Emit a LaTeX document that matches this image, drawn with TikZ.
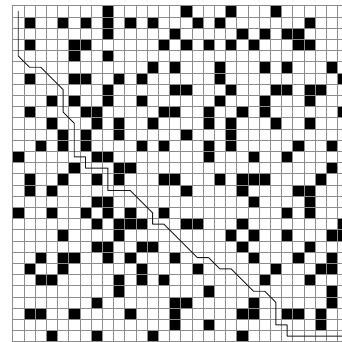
\documentclass[tikz,border=0pt]{standalone}
\begin{document}
\begin{tikzpicture}
% occupancy grid with warping path
\def\cellsz{0.4cm}
\providecommand{\gridLineColor}{black!45}
\providecommand{\gridLineWidth}{0.5pt}
\providecommand{\pathColor}{black!90}
\providecommand{\pathLineWidth}{0.9pt}
\begin{scope}[x=\cellsz, y=\cellsz, line cap=round, line join=round]
  % Frame of the picture (last column is cut)
  \useasboundingbox (-1.134,-0.03) rectangle (29.40,30.509);
  \fill[white] (-1.134,-0.03) rectangle (29.40,30.509);
  % Occupied cells
  \begin{scope}[fill=black]
    \fill (8,29) rectangle ++(1,1);
    \fill (15,29) rectangle ++(1,1);
    \fill (19,29) rectangle ++(1,1);
    \fill (23,29) rectangle ++(1,1);
    \fill (1,28) rectangle ++(1,1);
    \fill (4,28) rectangle ++(1,1);
    \fill (6,28) rectangle ++(1,1);
    \fill (8,28) rectangle ++(1,1);
    \fill (10,28) rectangle ++(1,1);
    \fill (12,28) rectangle ++(1,1);
    \fill (16,28) rectangle ++(1,1);
    \fill (18,28) rectangle ++(1,1);
    \fill (26,28) rectangle ++(1,1);
    \fill (8,27) rectangle ++(1,1);
    \fill (14,27) rectangle ++(1,1);
    \fill (20,27) rectangle ++(1,1);
    \fill (22,27) rectangle ++(1,1);
    \fill (24,27) rectangle ++(1,1);
    \fill (25,27) rectangle ++(1,1);
    \fill (1,26) rectangle ++(1,1);
    \fill (5,26) rectangle ++(1,1);
    \fill (6,26) rectangle ++(1,1);
    \fill (13,26) rectangle ++(1,1);
    \fill (15,26) rectangle ++(1,1);
    \fill (17,26) rectangle ++(1,1);
    \fill (19,26) rectangle ++(1,1);
    \fill (21,26) rectangle ++(1,1);
    \fill (25,26) rectangle ++(1,1);
    \fill (26,26) rectangle ++(1,1);
    \fill (5,25) rectangle ++(1,1);
    \fill (8,25) rectangle ++(1,1);
    \fill (12,24) rectangle ++(1,1);
    \fill (14,24) rectangle ++(1,1);
    \fill (18,24) rectangle ++(1,1);
    \fill (22,24) rectangle ++(1,1);
    \fill (24,24) rectangle ++(1,1);
    \fill (28,24) rectangle ++(1,1);
    \fill (1,23) rectangle ++(1,1);
    \fill (5,23) rectangle ++(1,1);
    \fill (6,23) rectangle ++(1,1);
    \fill (9,23) rectangle ++(1,1);
    \fill (11,23) rectangle ++(1,1);
    \fill (18,23) rectangle ++(1,1);
    \fill (29,23) rectangle ++(1,1);
    \fill (8,22) rectangle ++(1,1);
    \fill (14,22) rectangle ++(1,1);
    \fill (15,22) rectangle ++(1,1);
    \fill (19,22) rectangle ++(1,1);
    \fill (23,22) rectangle ++(1,1);
    \fill (24,22) rectangle ++(1,1);
    \fill (26,22) rectangle ++(1,1);
    \fill (27,22) rectangle ++(1,1);
    \fill (3,21) rectangle ++(1,1);
    \fill (5,21) rectangle ++(1,1);
    \fill (8,21) rectangle ++(1,1);
    \fill (11,21) rectangle ++(1,1);
    \fill (18,21) rectangle ++(1,1);
    \fill (22,21) rectangle ++(1,1);
    \fill (26,21) rectangle ++(1,1);
    \fill (1,20) rectangle ++(1,1);
    \fill (6,20) rectangle ++(1,1);
    \fill (7,20) rectangle ++(1,1);
    \fill (13,20) rectangle ++(1,1);
    \fill (14,20) rectangle ++(1,1);
    \fill (17,20) rectangle ++(1,1);
    \fill (20,20) rectangle ++(1,1);
    \fill (22,20) rectangle ++(1,1);
    \fill (29,20) rectangle ++(1,1);
    \fill (3,19) rectangle ++(1,1);
    \fill (7,19) rectangle ++(1,1);
    \fill (9,19) rectangle ++(1,1);
    \fill (12,19) rectangle ++(1,1);
    \fill (17,19) rectangle ++(1,1);
    \fill (19,19) rectangle ++(1,1);
    \fill (23,19) rectangle ++(1,1);
    \fill (26,19) rectangle ++(1,1);
    \fill (4,18) rectangle ++(1,1);
    \fill (6,18) rectangle ++(1,1);
    \fill (9,18) rectangle ++(1,1);
    \fill (15,18) rectangle ++(1,1);
    \fill (19,18) rectangle ++(1,1);
    \fill (2,17) rectangle ++(1,1);
    \fill (4,17) rectangle ++(1,1);
    \fill (6,17) rectangle ++(1,1);
    \fill (11,17) rectangle ++(1,1);
    \fill (13,17) rectangle ++(1,1);
    \fill (17,17) rectangle ++(1,1);
    \fill (19,17) rectangle ++(1,1);
    \fill (25,17) rectangle ++(1,1);
    \fill (28,17) rectangle ++(1,1);
    \fill (0,16) rectangle ++(1,1);
    \fill (7,16) rectangle ++(1,1);
    \fill (8,16) rectangle ++(1,1);
    \fill (17,16) rectangle ++(1,1);
    \fill (21,16) rectangle ++(1,1);
    \fill (24,16) rectangle ++(1,1);
    \fill (5,15) rectangle ++(1,1);
    \fill (9,15) rectangle ++(1,1);
    \fill (10,15) rectangle ++(1,1);
    \fill (28,15) rectangle ++(1,1);
    \fill (1,14) rectangle ++(1,1);
    \fill (4,14) rectangle ++(1,1);
    \fill (7,14) rectangle ++(1,1);
    \fill (9,14) rectangle ++(1,1);
    \fill (13,14) rectangle ++(1,1);
    \fill (14,14) rectangle ++(1,1);
    \fill (18,14) rectangle ++(1,1);
    \fill (20,14) rectangle ++(1,1);
    \fill (21,14) rectangle ++(1,1);
    \fill (22,14) rectangle ++(1,1);
    \fill (27,14) rectangle ++(1,1);
    \fill (1,13) rectangle ++(1,1);
    \fill (3,13) rectangle ++(1,1);
    \fill (15,13) rectangle ++(1,1);
    \fill (20,13) rectangle ++(1,1);
    \fill (25,13) rectangle ++(1,1);
    \fill (26,13) rectangle ++(1,1);
    \fill (7,12) rectangle ++(1,1);
    \fill (8,12) rectangle ++(1,1);
    \fill (21,12) rectangle ++(1,1);
    \fill (26,12) rectangle ++(1,1);
    \fill (0,11) rectangle ++(1,1);
    \fill (3,11) rectangle ++(1,1);
    \fill (6,11) rectangle ++(1,1);
    \fill (8,11) rectangle ++(1,1);
    \fill (10,11) rectangle ++(1,1);
    \fill (13,11) rectangle ++(1,1);
    \fill (24,11) rectangle ++(1,1);
    \fill (26,11) rectangle ++(1,1);
    \fill (7,10) rectangle ++(1,1);
    \fill (9,10) rectangle ++(1,1);
    \fill (10,10) rectangle ++(1,1);
    \fill (11,10) rectangle ++(1,1);
    \fill (15,10) rectangle ++(1,1);
    \fill (16,10) rectangle ++(1,1);
    \fill (20,10) rectangle ++(1,1);
    \fill (29,10) rectangle ++(1,1);
    \fill (4,9) rectangle ++(1,1);
    \fill (9,9) rectangle ++(1,1);
    \fill (19,9) rectangle ++(1,1);
    \fill (21,9) rectangle ++(1,1);
    \fill (24,9) rectangle ++(1,1);
    \fill (28,9) rectangle ++(1,1);
    \fill (29,9) rectangle ++(1,1);
    \fill (7,8) rectangle ++(1,1);
    \fill (8,8) rectangle ++(1,1);
    \fill (11,8) rectangle ++(1,1);
    \fill (12,8) rectangle ++(1,1);
    \fill (20,8) rectangle ++(1,1);
    \fill (26,8) rectangle ++(1,1);
    \fill (2,7) rectangle ++(1,1);
    \fill (4,7) rectangle ++(1,1);
    \fill (5,7) rectangle ++(1,1);
    \fill (8,7) rectangle ++(1,1);
    \fill (10,7) rectangle ++(1,1);
    \fill (14,7) rectangle ++(1,1);
    \fill (21,7) rectangle ++(1,1);
    \fill (25,7) rectangle ++(1,1);
    \fill (28,7) rectangle ++(1,1);
    \fill (1,6) rectangle ++(1,1);
    \fill (4,6) rectangle ++(1,1);
    \fill (11,6) rectangle ++(1,1);
    \fill (16,6) rectangle ++(1,1);
    \fill (23,6) rectangle ++(1,1);
    \fill (27,6) rectangle ++(1,1);
    \fill (28,6) rectangle ++(1,1);
    \fill (2,5) rectangle ++(1,1);
    \fill (3,5) rectangle ++(1,1);
    \fill (9,5) rectangle ++(1,1);
    \fill (11,5) rectangle ++(1,1);
    \fill (13,5) rectangle ++(1,1);
    \fill (22,5) rectangle ++(1,1);
    \fill (26,5) rectangle ++(1,1);
    \fill (9,4) rectangle ++(1,1);
    \fill (17,4) rectangle ++(1,1);
    \fill (28,4) rectangle ++(1,1);
    \fill (7,3) rectangle ++(1,1);
    \fill (14,3) rectangle ++(1,1);
    \fill (15,3) rectangle ++(1,1);
    \fill (21,3) rectangle ++(1,1);
    \fill (28,3) rectangle ++(1,1);
    \fill (1,2) rectangle ++(1,1);
    \fill (2,2) rectangle ++(1,1);
    \fill (5,2) rectangle ++(1,1);
    \fill (10,2) rectangle ++(1,1);
    \fill (14,2) rectangle ++(1,1);
    \fill (20,2) rectangle ++(1,1);
    \fill (21,2) rectangle ++(1,1);
    \fill (24,2) rectangle ++(1,1);
    \fill (25,2) rectangle ++(1,1);
    \fill (27,2) rectangle ++(1,1);
    \fill (14,1) rectangle ++(1,1);
    \fill (17,1) rectangle ++(1,1);
    \fill (27,1) rectangle ++(1,1);
    \fill (3,0) rectangle ++(1,1);
    \fill (7,0) rectangle ++(1,1);
    \fill (12,0) rectangle ++(1,1);
    \fill (20,0) rectangle ++(1,1);
  \end{scope}
  % Grid and outline
  % Vertical lines
  \begin{scope}[draw=\gridLineColor, line width=\gridLineWidth, line cap=rect]
    \draw (0,0) -- (0,30);
    \draw (1,0) -- (1,30);
    \draw (2,0) -- (2,30);
    \draw (3,0) -- (3,30);
    \draw (4,0) -- (4,30);
    \draw (5,0) -- (5,30);
    \draw (6,0) -- (6,30);
    \draw (7,0) -- (7,30);
    \draw (8,0) -- (8,30);
    \draw (9,0) -- (9,30);
    \draw (10,0) -- (10,30);
    \draw (11,0) -- (11,30);
    \draw (12,0) -- (12,30);
    \draw (13,0) -- (13,30);
    \draw (14,0) -- (14,30);
    \draw (15,0) -- (15,30);
    \draw (16,0) -- (16,30);
    \draw (17,0) -- (17,30);
    \draw (18,0) -- (18,30);
    \draw (19,0) -- (19,30);
    \draw (20,0) -- (20,30);
    \draw (21,0) -- (21,30);
    \draw (22,0) -- (22,30);
    \draw (23,0) -- (23,30);
    \draw (24,0) -- (24,30);
    \draw (25,0) -- (25,30);
    \draw (26,0) -- (26,30);
    \draw (27,0) -- (27,30);
    \draw (28,0) -- (28,30);
    \draw (29,0) -- (29,30);
    \draw (30,0) -- (30,30);
  \end{scope}
  % Horizontal lines
  \begin{scope}[draw=\gridLineColor, line width=\gridLineWidth, line cap=rect]
    \draw (0,0) -- (30,0);
    \draw (0,1) -- (30,1);
    \draw (0,2) -- (30,2);
    \draw (0,3) -- (30,3);
    \draw (0,4) -- (30,4);
    \draw (0,5) -- (30,5);
    \draw (0,6) -- (30,6);
    \draw (0,7) -- (30,7);
    \draw (0,8) -- (30,8);
    \draw (0,9) -- (30,9);
    \draw (0,10) -- (30,10);
    \draw (0,11) -- (30,11);
    \draw (0,12) -- (30,12);
    \draw (0,13) -- (30,13);
    \draw (0,14) -- (30,14);
    \draw (0,15) -- (30,15);
    \draw (0,16) -- (30,16);
    \draw (0,17) -- (30,17);
    \draw (0,18) -- (30,18);
    \draw (0,19) -- (30,19);
    \draw (0,20) -- (30,20);
    \draw (0,21) -- (30,21);
    \draw (0,22) -- (30,22);
    \draw (0,23) -- (30,23);
    \draw (0,24) -- (30,24);
    \draw (0,25) -- (30,25);
    \draw (0,26) -- (30,26);
    \draw (0,27) -- (30,27);
    \draw (0,28) -- (30,28);
    \draw (0,29) -- (30,29);
    \draw (0,30) -- (30,30);
  \end{scope}
  % Warping path through cell centres
  \draw[draw=\pathColor, line width=\pathLineWidth]
    (0.5,29.5) -- (0.5,25.5) -- (1.5,24.5) -- (2.5,24.5) -- (4.5,22.5)
    -- (4.5,20.5) -- (5.5,19.5) -- (5.5,16.5) -- (6.5,16.5) -- (6.5,15.5)
    -- (8.5,15.5) -- (8.5,13.5) -- (10.5,13.5) -- (12.5,11.5) -- (12.5,10.5)
    -- (13.5,10.5) -- (16.5,7.5) -- (17.5,7.5) -- (18.5,6.5) -- (19.5,6.5)
    -- (21.5,4.5) -- (22.5,4.5) -- (23.5,3.5) -- (23.5,1.5) -- (24.5,1.5)
    -- (24.5,0.5) -- (29.5,0.5);
\end{scope}
\end{tikzpicture}
\end{document}
